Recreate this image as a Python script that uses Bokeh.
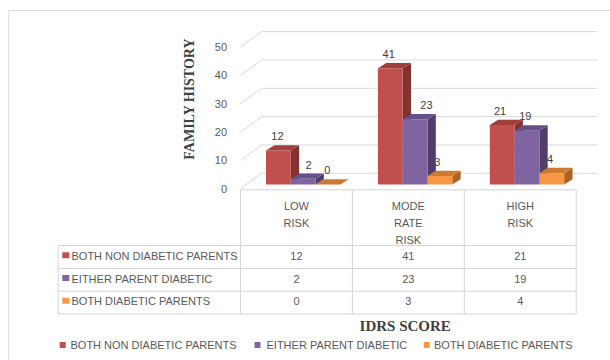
import math

from bokeh.plotting import figure
from bokeh.models import Range1d, ColumnDataSource
from bokeh.core.properties import value
from bokeh.embed import file_html
from bokeh.resources import INLINE

# ---- data -------------------------------------------------------------
categories = ["LOW\nRISK", "MODE\nRATE\nRISK", "HIGH\nRISK"]
series_names = ["BOTH NON DIABETIC PARENTS", "EITHER PARENT DIABETIC", "BOTH DIABETIC PARENTS"]
both_non_diabetic = [12, 41, 21]
either_parent_diabetic = [2, 23, 19]
both_diabetic = [0, 3, 4]
y_ticks = [0, 10, 20, 30, 40, 50]
y_title = "FAMILY HISTORY"
x_title = "IDRS SCORE"

series_values = [both_non_diabetic, either_parent_diabetic, both_diabetic]

# ---- styling ----------------------------------------------------------
front_colors = ["#c0504d", "#8064a2", "#f79646"]
top_colors = ["#a03f3c", "#65508a", "#cf7a33"]
side_colors = ["#84312f", "#503e6a", "#ab6322"]
# horizontal nudges (px) of the value labels, keeping them clear of neighbours
label_nudge_px = [[-1.0, -1.6, -2.2], [5.3, 11.3, -1.7], [-0.8, -2.7, -1.8]]
GRID = "#d9d9d9"
TXT = "#595959"
DARK = "#404040"
SANS = value("Liberation Sans")
SERIF = value("Liberation Serif")

W, H = 610, 360
CW = 111.9        # pixels per category column
UNIT = 2.833      # pixels per value unit
X_ORIGIN = 240.0  # pixel x of the first category column's left edge
Y_ORIGIN = 188.3  # pixel y of value zero on the front plane


def dx(px):
    return (px - X_ORIGIN) / CW


def dy(py):
    return (Y_ORIGIN - py) / UNIT


p = figure(width=W, height=H,
           x_range=Range1d(dx(0), dx(W)), y_range=Range1d(dy(H), dy(0)),
           output_backend="svg", toolbar_location=None,
           x_axis_type=None, y_axis_type=None, min_border=0,
           outline_line_color=None, background_fill_color="white",
           border_fill_color="white")

# outer chart border
p.multi_line([[dx(8.3), dx(8.3), dx(W)]], [[dy(H), dy(10), dy(10)]],
             line_color=GRID, line_width=1)

# ---- 3D wall gridlines -------------------------------------------------
WALL_DX = 21 / CW
WALL_DY = 15.5 / UNIT
back_right = dx(597)
p.multi_line([[0, WALL_DX, back_right] for t in y_ticks],
             [[t, t + WALL_DY, t + WALL_DY] for t in y_ticks],
             line_color=GRID, line_width=1)

# y tick labels
p.text(x=[dx(226.5)] * len(y_ticks), y=y_ticks, text=[str(t) for t in y_ticks],
       text_align="right", text_baseline="middle", text_font=SANS,
       text_font_size="11px", text_color=TXT)

# ---- 3D bars ----------------------------------------------------------
BAR_OFF = 25.5 / CW
BAR_W = 24.8 / CW
BAR_BASE = 4.3 / UNIT
DEP_X = 8.3 / CW
DEP_Y = 5.3 / UNIT
LABEL_GAP = 14.3 / UNIT

for s, vals in enumerate(series_values):
    lefts = [c + BAR_OFF + s * BAR_W for c in range(len(categories))]
    rights = [l + BAR_W for l in lefts]
    tops = [BAR_BASE + v for v in vals]
    side_xs = [[r, r + DEP_X, r + DEP_X, r] for r in rights]
    side_ys = [[BAR_BASE, BAR_BASE + DEP_Y, t + DEP_Y, t] for t in tops]
    top_xs = [[l, r, r + DEP_X, l + DEP_X] for l, r in zip(lefts, rights)]
    top_ys = [[t, t, t + DEP_Y, t + DEP_Y] for t in tops]
    p.patches(side_xs, side_ys, fill_color=side_colors[s], line_color=None)
    p.patches(top_xs, top_ys, fill_color=top_colors[s], line_color=None)
    src = ColumnDataSource(dict(left=lefts, right=rights, top=tops,
                                bottom=[BAR_BASE] * len(vals), val=[str(v) for v in vals],
                                lx=[l + BAR_W / 2 + nd / CW
                                    for l, nd in zip(lefts, label_nudge_px[s])],
                                ly=[t + LABEL_GAP for t in tops]))
    p.quad(left="left", right="right", top="top", bottom="bottom", source=src,
           fill_color=front_colors[s], line_color=None)
    p.text(x="lx", y="ly", text="val", source=src, text_align="center",
           text_baseline="middle", text_font=SANS, text_font_size="11px",
           text_color=DARK)

# ---- data table ---------------------------------------------------------
n = len(categories)
T_TOP = dy(189.3)
row_lines_py = [245, 268, 290.7, 313.5]
T_BOT = dy(row_lines_py[-1])
T_LEFT = dx(57.7)
seg_xs = [[0, n]]
seg_ys = [[T_TOP, T_TOP]]
for c in range(n + 1):
    seg_xs.append([c, c])
    seg_ys.append([T_TOP, T_BOT])
for py in row_lines_py:
    seg_xs.append([T_LEFT, n])
    seg_ys.append([dy(py), dy(py)])
seg_xs.append([T_LEFT, T_LEFT])
seg_ys.append([dy(row_lines_py[0]), T_BOT])
p.multi_line(seg_xs, seg_ys, line_color="#d4d4d4", line_width=1)

# category headings
hx, hy, ht = [], [], []
for i, cat in enumerate(categories):
    for j, line in enumerate(cat.split("\n")):
        hx.append(i + 0.5)
        hy.append(dy(205.7 + 16.7 * j))
        ht.append(line)
p.text(x=hx, y=hy, text=ht, text_align="center", text_baseline="middle",
       text_font=SANS, text_font_size="11px", text_color=TXT)

# table rows: legend key, series name, values
row_text_py = [255.3, 278.0, 300.8]
for s, vals in enumerate(series_values):
    ry = dy(row_text_py[s])
    p.rect(x=[dx(65.3)], y=[ry + 0.5 / UNIT], width=7, height=6,
           width_units="screen", height_units="screen",
           fill_color=front_colors[s], line_color=None)
    p.text(x=[dx(71)], y=[ry], text=[series_names[s]], text_align="left",
           text_baseline="middle", text_font=SANS, text_font_size="11px",
           text_color=TXT)
    p.text(x=[c + 0.5 for c in range(n)], y=[ry] * n, text=[str(v) for v in vals],
           text_align="center", text_baseline="middle", text_font=SANS,
           text_font_size="11px", text_color=TXT)

# ---- axis titles ------------------------------------------------------
p.text(x=[dx(188.7)], y=[dy(98.3)], text=[y_title], angle=math.pi / 2,
       text_align="center", text_baseline="middle", text_font=SERIF,
       text_font_style="bold", text_font_size="14px", text_color=DARK)
p.text(x=[dx(404.7)], y=[dy(325.7)], text=[x_title],
       text_align="center", text_baseline="middle", text_font=SERIF,
       text_font_style="bold", text_font_size="15px", text_color=DARK)

# ---- bottom legend ----------------------------------------------------
key_px = [62.2, 257.0, 426.2]
label_px = [70.0, 266.0, 433.5]
leg_y = dy(344.5)
p.rect(x=[dx(k) for k in key_px], y=[leg_y] * 3, width=6, height=6,
       width_units="screen", height_units="screen",
       fill_color=front_colors, line_color=None)
p.text(x=[dx(k) for k in label_px], y=[leg_y] * 3, text=series_names,
       text_align="left", text_baseline="middle", text_font=SANS,
       text_font_size="11px", text_color=TXT)

open("out.html", "w").write(file_html(p, INLINE))
